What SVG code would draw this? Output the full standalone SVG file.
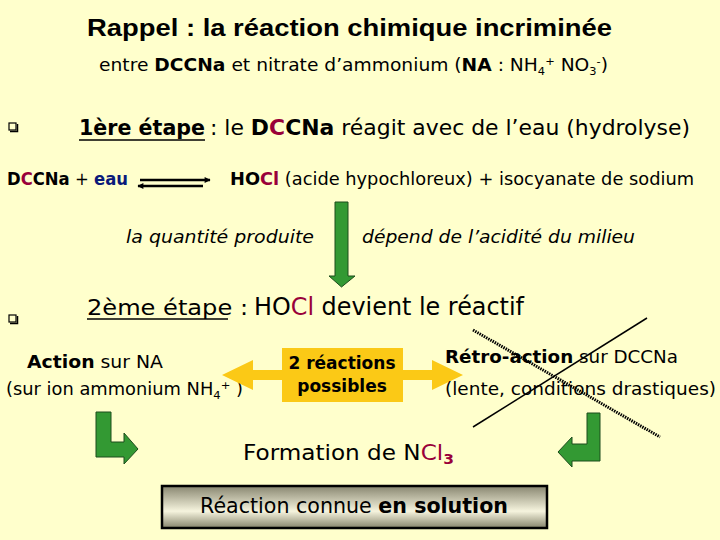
<svg xmlns="http://www.w3.org/2000/svg" width="720" height="540" viewBox="0 0 720 540">
<defs>
<style>
text{font-family:"DejaVu Sans","Liberation Sans",sans-serif;fill:#000}
.t{font-family:"Liberation Sans",Arial,sans-serif;font-weight:bold}
.b{font-weight:bold}
.r{fill:#99003a}
.n{fill:#0a1a7a;font-weight:bold}
.i{font-style:italic}
.g{fill:#339933;stroke:#1d4d1d;stroke-width:1}
.cb{fill:none;stroke:#000;stroke-width:1.2}
.sh{fill:none;stroke:#000;stroke-width:1.5}
</style>
<linearGradient id="grad" x1="0" y1="0" x2="0" y2="1">
<stop offset="0" stop-color="#888670"/>
<stop offset="0.6" stop-color="#f6f4de"/>
<stop offset="1" stop-color="#86846c"/>
</linearGradient>
<marker id="ah" viewBox="0 0 10 10" refX="9" refY="5" markerWidth="8" markerHeight="6" orient="auto" markerUnits="userSpaceOnUse">
<path d="M0,0 L10,5 L0,10 z" fill="#000"/>
</marker>
</defs>
<rect width="720" height="540" fill="#ffffcc"/>

<g id="title">
<text class="t" x="87" y="36" font-size="23" textLength="525" lengthAdjust="spacingAndGlyphs">Rappel : la réaction chimique incriminée</text>
<text x="99" y="71" font-size="18" textLength="509" lengthAdjust="spacingAndGlyphs">entre <tspan class="b">DCCNa</tspan> et nitrate d’ammonium (<tspan class="b">NA</tspan> : NH<tspan font-size="11" dy="4">4</tspan><tspan font-size="11" dy="-10">+</tspan><tspan dy="6"> NO</tspan><tspan font-size="11" dy="4">3</tspan><tspan font-size="11" dy="-10">-</tspan><tspan dy="6">)</tspan></text>
</g>

<g id="step1">
<rect class="cb" x="9" y="123" width="7" height="7"/>
<polyline class="sh" points="17.5,124 17.5,131.5 10,131.5"/>
<text x="79" y="135" font-size="21" class="b" textLength="126" lengthAdjust="spacingAndGlyphs">1ère étape</text>
<line x1="79" y1="140" x2="205" y2="140" stroke="#000" stroke-width="1.5"/>
<text x="210" y="135" font-size="21" textLength="480" lengthAdjust="spacingAndGlyphs">: le <tspan class="b">D</tspan><tspan class="b r">C</tspan><tspan class="b">CNa</tspan> réagit avec de l’eau (hydrolyse)</text>
</g>

<g id="reaction1">
<text x="7" y="185" font-size="17" textLength="121" lengthAdjust="spacingAndGlyphs"><tspan class="b">D</tspan><tspan class="b r">C</tspan><tspan class="b">CNa</tspan> + <tspan class="n">eau</tspan></text>
<text x="230" y="185" font-size="18" textLength="464" lengthAdjust="spacingAndGlyphs"><tspan class="b">HO</tspan><tspan class="b r">Cl</tspan> (acide hypochloreux) + isocyanate de sodium</text>
</g>

<g id="note">
<text class="i" x="126" y="243" font-size="17" textLength="188" lengthAdjust="spacingAndGlyphs">la quantité produite</text>
<text class="i" x="362" y="243" font-size="17" textLength="273" lengthAdjust="spacingAndGlyphs">dépend de l’acidité du milieu</text>
</g>

<g id="step2">
<rect class="cb" x="9" y="315" width="7" height="7"/>
<polyline class="sh" points="17.5,316 17.5,323.5 10,323.5"/>
<text x="87" y="315" font-size="21" textLength="161" lengthAdjust="spacingAndGlyphs">2ème étape :</text>
<line x1="87" y1="319" x2="228" y2="319" stroke="#000" stroke-width="1.5"/>
<text x="254" y="315" font-size="24" textLength="270" lengthAdjust="spacingAndGlyphs">HO<tspan class="r">Cl</tspan> devient le réactif</text>
</g>

<g id="action-na">
<text x="27" y="368" font-size="18" textLength="136" lengthAdjust="spacingAndGlyphs"><tspan class="b">Action</tspan> sur NA</text>
<text x="6" y="395" font-size="17" textLength="237" lengthAdjust="spacingAndGlyphs">(sur ion ammonium NH<tspan font-size="11" dy="4">4</tspan><tspan font-size="11" dy="-10">+</tspan><tspan dy="6"> )</tspan></text>
</g>

<g id="two-reactions">
<polygon fill="#fbc916" points="222,375 253,360 253,370 282,370 282,348 403,348 403,370 432,370 432,360 463,375 432,390 432,380 403,380 403,402 282,402 282,380 253,380 253,390"/>
<text class="b" x="342" y="369" font-size="17" text-anchor="middle">2 réactions</text>
<text class="b" x="342" y="392" font-size="17" text-anchor="middle">possibles</text>
</g>

<g id="retro-action">
<text x="445" y="363" font-size="18" textLength="233" lengthAdjust="spacingAndGlyphs"><tspan class="b">Rétro-action</tspan> sur DCCNa</text>
<text x="445" y="395" font-size="17" textLength="271" lengthAdjust="spacingAndGlyphs">(lente, conditions drastiques)</text>
<line x1="473" y1="330" x2="660" y2="437" stroke="#000" stroke-width="3" stroke-dasharray="1.5 1"/>
<line x1="473" y1="427" x2="647" y2="318" stroke="#000" stroke-width="1.5"/>
</g>

<g id="ncl3">
<text x="243" y="460" font-size="21" textLength="211" lengthAdjust="spacingAndGlyphs">Formation de N<tspan class="r">Cl</tspan><tspan class="r b" font-size="14" dy="4">3</tspan></text>
</g>

<g id="result">
<rect x="162" y="486" width="385" height="42" fill="url(#grad)" stroke="#000" stroke-width="2.5"/>
<text x="200" y="513" font-size="21" textLength="308" lengthAdjust="spacingAndGlyphs">Réaction connue <tspan class="b">en solution</tspan></text>
</g>

<g id="connectors">
<line x1="140" y1="180" x2="210" y2="180" stroke="#000" stroke-width="2.5" marker-end="url(#ah)"/>
<line x1="203" y1="186" x2="138" y2="186" stroke="#000" stroke-width="2.5" marker-end="url(#ah)"/>
<polygon class="g" points="335,202 348,202 348,276 355,276 341.5,287 329,276 335,276"/>
<polygon class="g" points="96,412 111,412 111,442 124,442 124,433 138,449 124,464 124,457 96,457"/>
<polygon class="g" points="587,413 600,413 600,461 572,461 572,467 558,452 572,437 572,444 587,444"/>
</g>
</svg>
